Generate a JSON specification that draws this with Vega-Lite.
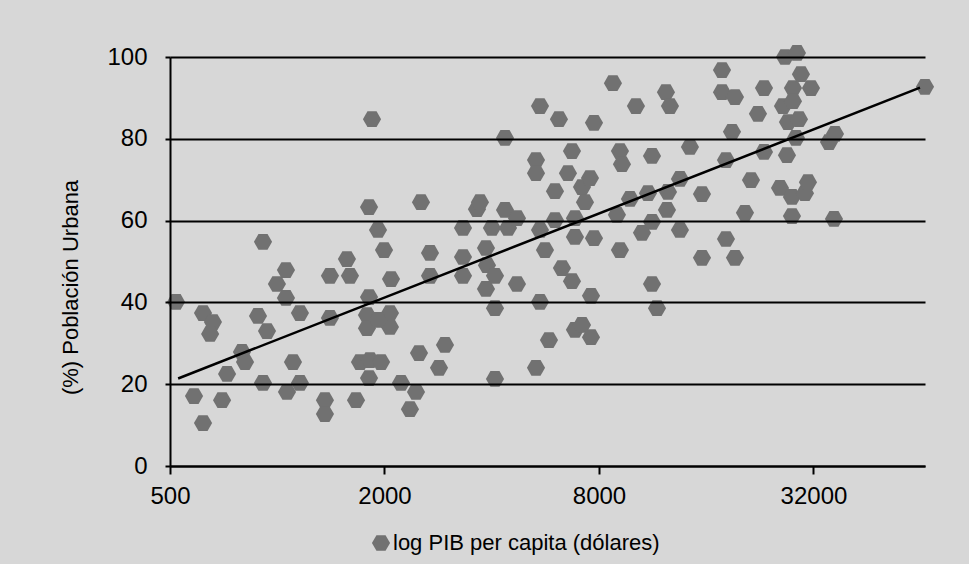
{
  "$schema": "https://vega.github.io/schema/vega-lite/v6.json",
  "width": 755,
  "height": 409,
  "autosize": {"type": "none"},
  "padding": {"left": 170, "top": 57, "right": 44, "bottom": 98},
  "background": "#d7d7d7",
  "config": {"view": {"stroke": null}, "font": "Liberation Sans"},
  "datasets": {
    "puntos": [
      {"pib":520,"urbana":40.1},{"pib":584,"urbana":17.1},{"pib":619,"urbana":37.4},{"pib":660,"urbana":35.2},
      {"pib":648,"urbana":32.3},{"pib":619,"urbana":10.5},{"pib":700,"urbana":16.1},{"pib":723,"urbana":22.5},
      {"pib":796,"urbana":27.9},{"pib":812,"urbana":25.4},{"pib":912,"urbana":54.8},{"pib":912,"urbana":20.3},
      {"pib":883,"urbana":36.7},{"pib":936,"urbana":33.0},{"pib":998,"urbana":44.5},{"pib":1058,"urbana":47.9},
      {"pib":1065,"urbana":18.1},{"pib":1107,"urbana":25.4},{"pib":1058,"urbana":41.1},{"pib":1158,"urbana":37.4},
      {"pib":1158,"urbana":20.3},{"pib":1361,"urbana":16.1},{"pib":1361,"urbana":12.7},{"pib":1406,"urbana":46.5},
      {"pib":1406,"urbana":36.2},{"pib":1569,"urbana":50.6},{"pib":1600,"urbana":46.5},{"pib":1664,"urbana":16.1},
      {"pib":1707,"urbana":25.4},{"pib":1810,"urbana":63.3},{"pib":1845,"urbana":84.8},{"pib":1918,"urbana":57.7},
      {"pib":1810,"urbana":41.3},{"pib":1786,"urbana":36.9},{"pib":1786,"urbana":33.7},{"pib":2072,"urbana":37.4},
      {"pib":2072,"urbana":34.0},{"pib":1918,"urbana":35.7},{"pib":1821,"urbana":25.9},{"pib":1956,"urbana":25.4},
      {"pib":1810,"urbana":21.5},{"pib":1994,"urbana":52.8},{"pib":2086,"urbana":45.7},{"pib":2225,"urbana":20.3},
      {"pib":2452,"urbana":18.1},{"pib":2358,"urbana":13.9},{"pib":2500,"urbana":27.6},{"pib":2532,"urbana":64.5},
      {"pib":2684,"urbana":52.1},{"pib":2684,"urbana":46.5},{"pib":2845,"urbana":24.0},{"pib":2957,"urbana":29.6},
      {"pib":3322,"urbana":51.1},{"pib":3322,"urbana":46.5},{"pib":3322,"urbana":58.2},{"pib":3636,"urbana":62.8},
      {"pib":3707,"urbana":64.5},{"pib":3854,"urbana":53.3},{"pib":3879,"urbana":49.1},{"pib":3854,"urbana":43.3},
      {"pib":4006,"urbana":58.2},{"pib":4085,"urbana":46.5},{"pib":4085,"urbana":38.6},{"pib":4085,"urbana":21.3},
      {"pib":4358,"urbana":62.6},{"pib":4358,"urbana":80.2},{"pib":4443,"urbana":58.2},{"pib":4709,"urbana":60.6},
      {"pib":4709,"urbana":44.5},{"pib":5325,"urbana":74.8},{"pib":5325,"urbana":71.6},{"pib":5325,"urbana":24.0},
      {"pib":5464,"urbana":88.0},{"pib":5464,"urbana":57.7},{"pib":5464,"urbana":40.1},{"pib":5643,"urbana":52.8},
      {"pib":5791,"urbana":30.8},{"pib":6020,"urbana":67.2},{"pib":6020,"urbana":60.1},{"pib":6177,"urbana":84.8},
      {"pib":6298,"urbana":48.4},{"pib":6547,"urbana":71.6},{"pib":6719,"urbana":77.0},{"pib":6719,"urbana":45.2},
      {"pib":6850,"urbana":60.6},{"pib":6850,"urbana":56.0},{"pib":6850,"urbana":33.3},{"pib":7168,"urbana":68.2},
      {"pib":7168,"urbana":34.5},{"pib":7308,"urbana":64.5},{"pib":7548,"urbana":70.4},{"pib":7597,"urbana":41.6},
      {"pib":7597,"urbana":31.5},{"pib":7746,"urbana":83.9},{"pib":7746,"urbana":55.7},{"pib":8755,"urbana":93.6},
      {"pib":8985,"urbana":61.4},{"pib":9162,"urbana":77.0},{"pib":9281,"urbana":73.8},{"pib":9162,"urbana":52.8},
      {"pib":9774,"urbana":65.3},{"pib":10160,"urbana":88.0},{"pib":10563,"urbana":57.0},{"pib":10980,"urbana":66.7},
      {"pib":11269,"urbana":75.8},{"pib":11269,"urbana":59.7},{"pib":11269,"urbana":44.5},{"pib":11640,"urbana":38.6},
      {"pib":12415,"urbana":62.6},{"pib":12496,"urbana":67.0},{"pib":12335,"urbana":91.4},{"pib":12658,"urbana":88.0},
      {"pib":13502,"urbana":57.7},{"pib":13502,"urbana":70.2},{"pib":14404,"urbana":78.0},{"pib":15567,"urbana":66.5},
      {"pib":15567,"urbana":50.9},{"pib":17716,"urbana":96.8},{"pib":17716,"urbana":91.4},{"pib":18179,"urbana":74.8},
      {"pib":18179,"urbana":55.5},{"pib":18898,"urbana":81.7},{"pib":19268,"urbana":90.2},{"pib":19268,"urbana":50.9},
      {"pib":20553,"urbana":61.9},{"pib":21368,"urbana":69.9},{"pib":22355,"urbana":86.1},{"pib":23242,"urbana":92.4},
      {"pib":23242,"urbana":76.8},{"pib":25775,"urbana":68.0},{"pib":26277,"urbana":88.0},{"pib":26618,"urbana":100.0},
      {"pib":26965,"urbana":76.0},{"pib":27139,"urbana":84.1},{"pib":27848,"urbana":65.8},{"pib":27848,"urbana":61.1},
      {"pib":28028,"urbana":92.4},{"pib":28028,"urbana":89.2},{"pib":28574,"urbana":80.2},{"pib":28760,"urbana":101.0},
      {"pib":29137,"urbana":84.8},{"pib":29513,"urbana":95.8},{"pib":30288,"urbana":66.7},{"pib":30882,"urbana":69.4},
      {"pib":31489,"urbana":92.4},{"pib":35379,"urbana":79.2},{"pib":36772,"urbana":81.2},{"pib":36535,"urbana":60.4},
      {"pib":65790,"urbana":92.7}
    ],
    "tendencia": [
      {"pib":527,"urbana":21.4},{"pib":63700,"urbana":92.5}
    ]
  },
  "layer": [
    {
      "data": {"name": "puntos"},
      "mark": {
        "type": "point",
        "shape": "M-1,0L-0.5,-0.866L0.5,-0.866L1,0L0.5,0.866L-0.5,0.866Z",
        "filled": true,
        "size": 330,
        "opacity": 1,
        "strokeWidth": 0
      },
      "encoding": {
        "x": {
          "field": "pib",
          "type": "quantitative",
          "scale": {"type": "log", "base": 2, "domain": [500, 65800], "nice": false},
          "axis": {
            "values": [500, 2000, 8000, 32000],
            "format": "d",
            "title": null,
            "grid": false,
            "labelFontSize": 24,
            "labelColor": "#000",
            "labelPadding": 10,
            "labelFlush": false,
            "domainColor": "#000",
            "domainWidth": 2,
            "tickColor": "#000",
            "tickWidth": 2,
            "tickSize": 8,
            "zindex": 1
          }
        },
        "y": {
          "field": "urbana",
          "type": "quantitative",
          "scale": {"domain": [0, 100], "nice": false},
          "axis": {
            "values": [0, 20, 40, 60, 80, 100],
            "title": "(%) Población Urbana",
            "titleFontSize": 22,
            "titleFontWeight": "normal",
            "titleColor": "#000",
            "titlePadding": 24,
            "titleY": 230,
            "grid": true,
            "gridColor": "#000",
            "gridWidth": 2,
            "gridOpacity": 1,
            "labelFontSize": 24,
            "labelColor": "#000",
            "labelPadding": 18,
            "domainColor": "#000",
            "domainWidth": 2,
            "tickColor": "#000",
            "tickWidth": 2,
            "tickSize": 5,
            "zindex": 1
          }
        },
        "color": {
          "datum": "log PIB per capita (dólares)",
          "type": "nominal",
          "scale": {"range": ["#717171"]},
          "legend": {
            "title": null,
            "orient": "none",
            "legendX": 200,
            "legendY": 475,
            "padding": 0,
            "labelFontSize": 22,
            "labelColor": "#000",
            "labelLimit": 0,
            "labelOffset": 1,
            "symbolType": "M-1,0L-0.5,-0.866L0.5,-0.866L1,0L0.5,0.866L-0.5,0.866Z",
            "symbolSize": 330,
            "symbolStrokeWidth": 0,
            "symbolOpacity": 1
          }
        }
      }
    },
    {
      "data": {"name": "tendencia"},
      "mark": {"type": "line", "color": "#000", "strokeWidth": 2.5},
      "encoding": {
        "x": {"field": "pib", "type": "quantitative"},
        "y": {"field": "urbana", "type": "quantitative"}
      }
    }
  ]
}
